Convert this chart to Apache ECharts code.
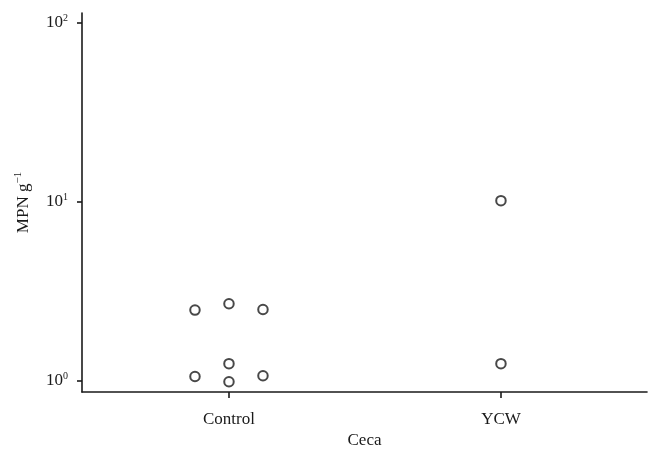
<!DOCTYPE html>
<html>
<head>
<meta charset="utf-8">
<script src="https://cdn.jsdelivr.net/npm/echarts@6/dist/echarts.min.js"></script>
<style>
  html, body { margin: 0; padding: 0; background: #fff; }
  #chart { width: 649px; height: 454px; }
</style>
</head>
<body>
<div id="chart"></div>
<script>
// groups on the x axis
var categories = ['Control', 'YCW'];
// each point: group index, jitter offset, MPN per g
var pointGroup = [0, 0, 0, 0, 0, 0, 0, 1, 1];
var pointJitter = [-0.125, 0, 0.125, 0, -0.125, 0, 0.125, 0, 0];
var pointMPN = [2.49, 2.70, 2.51, 1.25, 1.06, 0.99, 1.07, 10.17, 1.25];
var yTicks = [1, 10, 100];

var ink = '#1a1a1a';
var font = '"Liberation Serif", "Times New Roman", serif';

var chart = echarts.init(document.getElementById('chart'));

var points = pointMPN.map(function (v, i) {
  return [pointGroup[i] + 1 + pointJitter[i], v];
});

var option = {
  backgroundColor: '#fff',
  animation: false,
  textStyle: { fontFamily: font, color: ink },
  grid: [
    // axis frame (L shape)
    { left: 82, right: 2, top: 13, bottom: 62 },
    // data area: 10^0 .. 10^2
    { left: 82, right: 2, top: 23, bottom: 73 },
    // category labels
    { left: 93, right: 12, top: 13, bottom: 62 }
  ],
  xAxis: [
    {
      gridIndex: 0, type: 'value', min: 0, max: 1,
      axisLine: { show: true, lineStyle: { color: ink, width: 1.6 } },
      axisTick: { show: false }, axisLabel: { show: false }, splitLine: { show: false },
      name: 'Ceca', nameLocation: 'middle', nameGap: 40,
      nameTextStyle: { fontFamily: font, fontSize: 17, color: ink }
    },
    {
      gridIndex: 1, type: 'value', min: 0.4596, max: 2.537,
      show: false
    },
    {
      gridIndex: 2, type: 'category', data: categories, boundaryGap: true,
      axisLine: { show: false },
      axisTick: { show: true, alignWithLabel: true, length: 6, lineStyle: { color: ink, width: 1.6 } },
      axisLabel: { margin: 19, fontFamily: font, fontSize: 17, color: ink },
      splitLine: { show: false }
    }
  ],
  yAxis: [
    {
      gridIndex: 0, type: 'value', min: 0, max: 1,
      axisLine: { show: true, lineStyle: { color: ink, width: 1.6 } },
      axisTick: { show: false }, axisLabel: { show: false }, splitLine: { show: false },
      name: '{a|MPN g}{s|\u22121}', nameLocation: 'middle', nameGap: 48, nameRotate: 90,
      nameTextStyle: {
        rich: {
          a: { fontFamily: font, fontSize: 17, color: ink },
          s: { fontFamily: font, fontSize: 11, color: ink, padding: [0, 0, 10, 0] }
        }
      }
    },
    {
      gridIndex: 1, type: 'log', logBase: 10, min: yTicks[0], max: yTicks[yTicks.length - 1],
      splitNumber: 2,
      axisLine: { show: false },
      axisTick: { show: true, inside: false, length: 5, lineStyle: { color: ink, width: 1.6 } },
      axisLabel: {
        margin: 14,
        formatter: function (v) {
          var e = Math.round(Math.log10(v));
          return '{b|10}{s|' + e + '}';
        },
        rich: {
          b: { fontFamily: font, fontSize: 17, color: ink },
          s: { fontFamily: font, fontSize: 10, color: ink, padding: [0, 0, 9, 0] }
        }
      },
      splitLine: { show: false }
    },
    {
      gridIndex: 2, type: 'value', show: false
    }
  ],
  series: [
    {
      type: 'scatter',
      xAxisIndex: 1, yAxisIndex: 1,
      clip: false,
      symbol: 'circle',
      symbolSize: 9.5,
      itemStyle: { color: '#fff', borderColor: ink, borderWidth: 2 },
      data: points
    }
  ]
};

chart.setOption(option);
</script>
</body>
</html>
